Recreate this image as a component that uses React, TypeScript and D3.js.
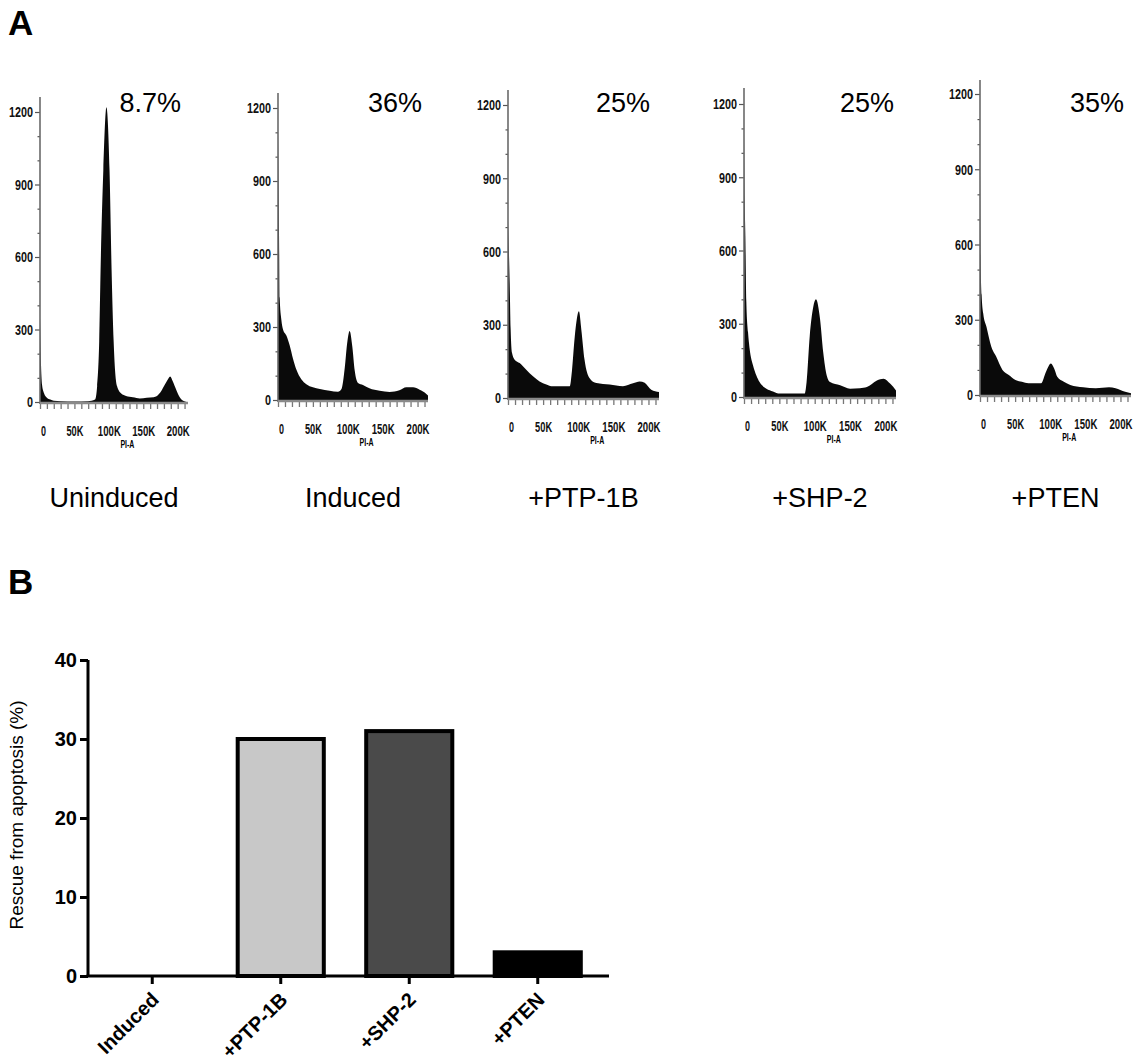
import * as d3 from "d3";
import { useEffect, useRef } from "react";

// PI-A (in K) and event count
const uninduced: [number, number][] = [
  [0, 350], [1.5, 150], [3, 70], [6, 35], [10, 18], [15, 10], [20, 5], [30, 3], [50, 2],
  [70, 3], [80, 10], [83, 65], [86, 250], [88, 546], [92, 960], [96.5, 1220], [101, 960],
  [104, 546], [107, 250], [112, 65], [118, 35], [125, 25], [135, 20], [145, 15], [155, 18],
  [165, 20], [170, 25], [175, 40], [180, 65], [185, 90], [189, 106], [193, 85], [198, 50],
  [203, 20], [208, 5], [213, 0],
];
const induced: [number, number][] = [
  [0, 1100], [1.4, 700], [2.4, 420], [4.8, 330], [7.2, 290], [12, 265], [16.7, 225],
  [21.5, 170], [26.3, 125], [33.4, 85], [40.6, 65], [50, 52], [60, 45], [74, 38], [86, 34],
  [91, 45], [95.6, 130], [99, 230], [102.7, 284], [106.5, 220], [110, 120], [114.7, 70],
  [121.8, 62], [131, 48], [145.7, 38], [160, 33], [174, 40], [184, 52], [193.5, 52],
  [203, 42], [212.6, 25], [215, 18],
];
const ptp1b: [number, number][] = [
  [0, 730], [2.4, 470], [3.8, 280], [5.7, 185], [9.5, 157], [16.6, 143], [26, 116],
  [35.6, 89], [45, 68], [54.6, 55], [61.7, 48], [87.8, 48], [91, 110], [95, 250], [101, 355],
  [104.4, 280], [109, 157], [116, 82], [125.8, 61], [144.7, 55], [163.7, 48], [178, 60],
  [187.5, 68], [194.6, 62], [204, 34], [215, 25],
];
const shp2: [number, number][] = [
  [0, 1080], [1, 800], [1.9, 660], [3.3, 390], [5.7, 265], [8, 197], [12.8, 129], [17.5, 88],
  [22, 61], [31.7, 34], [41, 23], [50.7, 14], [86, 14], [88.5, 60], [93, 250], [98, 370],
  [101.8, 400], [107.5, 320], [112, 184], [117, 88], [121.7, 61], [136, 48], [150, 34],
  [164, 36], [173.8, 41], [188, 68], [197.4, 75], [207, 54], [215, 27],
];
const pten: [number, number][] = [
  [0, 900], [0.9, 550], [2.3, 400], [4.6, 325], [9.2, 272], [16, 193], [23, 153], [32, 100],
  [41, 80], [50.5, 60], [59.7, 53], [69, 47], [87, 47], [94, 93], [101, 126], [105.6, 106],
  [110, 73], [119.4, 53], [128.6, 40], [147, 31], [165, 27], [183.7, 31], [193, 27],
  [206.7, 13], [215, 7],
];

const samples = [uninduced, induced, ptp1b, shp2, pten];
const sampleNames = ["Uninduced", "Induced", "+PTP-1B", "+SHP-2", "+PTEN"];
const apoptosisPct = ["8.7%", "36%", "25%", "25%", "35%"];
const countTicks = [0, 300, 600, 900, 1200];
const piTicks = [0, 50, 100, 150, 200];

// panel B
const rescueCats = ["Induced", "+PTP-1B", "+SHP-2", "+PTEN"];
const rescueVals = [0, 30, 31, 3];
const rescueFills = ["#ffffff", "#c8c8c8", "#4a4a4a", "#000000"];
const rescueTicks = [0, 10, 20, 30, 40];

// where each histogram sits on the page
const frames = [
  { x0: 40, x1: 188, yBase: 402, y1200: 112, top: 97, pctRight: 181 },
  { x0: 278, x1: 428, yBase: 400, y1200: 108, top: 93, pctRight: 422 },
  { x0: 508, x1: 659, yBase: 398, y1200: 105, top: 90, pctRight: 650 },
  { x0: 744, x1: 896, yBase: 397, y1200: 104, top: 88, pctRight: 894 },
  { x0: 980, x1: 1131, yBase: 395, y1200: 94, top: 80, pctRight: 1124 },
];

const W = 1138;
const H = 1056;
const SANS = "'Liberation Sans', Arial, Helvetica, sans-serif";

// the flow-cytometry labels use a condensed bold face; squeeze a normal one
const narrowLen = (s: string) => s.length * 6;

export default function App() {
  const ref = useRef<SVGSVGElement>(null);

  useEffect(() => {
    const svg = d3.select(ref.current);
    svg.selectAll("*").remove();
    svg.append("rect").attr("width", W).attr("height", H).attr("fill", "#fff");

    // panel letters
    svg.append("text").attr("x", 8).attr("y", 35).text("A")
      .style("font-family", SANS).style("font-weight", "bold").style("font-size", "35px");
    svg.append("text").attr("x", 8).attr("y", 594).text("B")
      .style("font-family", SANS).style("font-weight", "bold").style("font-size", "35px");

    // ---- histograms ----
    samples.forEach((pts, i) => {
      const f = frames[i];
      const x = d3.scaleLinear().domain([0, 215]).range([f.x0, f.x1]);
      const y = d3.scaleLinear().domain([0, 1200]).range([f.yBase, f.y1200]);
      const g = svg.append("g");

      const area = d3.area<[number, number]>()
        .x(d => x(d[0]))
        .y0(f.yBase)
        .y1(d => y(d[1]))
        .curve(d3.curveMonotoneX);
      g.append("path").attr("d", area(pts)).attr("fill", "#0a0a0a");

      // y axis
      const yAxis = d3.axisLeft(y)
        .tickValues(d3.range(0, 1201, 100))
        .tickSize(5)
        .tickFormat(d => (countTicks.includes(+d) ? String(d) : ""));
      const ya = g.append("g").attr("transform", `translate(${f.x0},0)`).call(yAxis);
      ya.select(".domain").remove();
      ya.selectAll(".tick line")
        .attr("stroke", "#555")
        .attr("stroke-width", 1.2)
        .attr("x2", (d: any) => (countTicks.includes(+d) ? -5 : -2.5));
      ya.selectAll<SVGTextElement, number>(".tick text")
        .attr("x", -7)
        .style("font-family", SANS)
        .style("font-weight", "bold")
        .style("font-size", "15px")
        .attr("fill", "#111")
        .filter(d => countTicks.includes(+d))
        .attr("textLength", d => narrowLen(String(d)))
        .attr("lengthAdjust", "spacingAndGlyphs");
      g.append("line")
        .attr("x1", f.x0).attr("x2", f.x0)
        .attr("y1", f.yBase + 2).attr("y2", f.top)
        .attr("stroke", "#6a6a6a").attr("stroke-width", 1.6);

      // x axis
      const fmtK = (d: number) => (d === 0 ? "0" : `${d}K`);
      const xAxis = d3.axisBottom(x)
        .tickValues(d3.range(0, 211, 10))
        .tickSize(6)
        .tickFormat(d => (piTicks.includes(+d) ? fmtK(+d) : ""));
      const xa = g.append("g").attr("transform", `translate(0,${f.yBase + 1})`).call(xAxis);
      xa.select(".domain").remove();
      xa.selectAll(".tick line").attr("stroke", "#777").attr("stroke-width", 1.3);
      xa.selectAll<SVGTextElement, number>(".tick text")
        .attr("y", 22)
        .style("font-family", SANS)
        .style("font-weight", "bold")
        .style("font-size", "15px")
        .attr("fill", "#111")
        .filter(d => piTicks.includes(+d))
        .attr("textLength", d => narrowLen(fmtK(+d)) - 1)
        .attr("lengthAdjust", "spacingAndGlyphs");
      xa.selectAll<SVGGElement, number>(".tick")
        .filter(d => d === 0)
        .select("text")
        .attr("x", 3);
      g.append("line")
        .attr("x1", f.x0).attr("x2", f.x1)
        .attr("y1", f.yBase + 1).attr("y2", f.yBase + 1)
        .attr("stroke", "#8a8a8a").attr("stroke-width", 2.5);

      g.append("text")
        .attr("x", x(127)).attr("y", f.yBase + 46)
        .attr("text-anchor", "middle")
        .attr("textLength", 14)
        .attr("lengthAdjust", "spacingAndGlyphs")
        .text("PI-A")
        .style("font-family", SANS).style("font-weight", "bold").style("font-size", "10px");

      // % apoptotic
      g.append("text")
        .attr("x", f.pctRight).attr("y", 112)
        .attr("text-anchor", "end")
        .text(apoptosisPct[i])
        .style("font-family", SANS).style("font-size", "27px");

      // sample name
      g.append("text")
        .attr("x", (f.x0 + f.x1) / 2).attr("y", 507)
        .attr("text-anchor", "middle")
        .text(sampleNames[i])
        .style("font-family", SANS).style("font-size", "27px");
    });

    // ---- panel B: bar chart ----
    const left = 88, right = 609, y0 = 976, y40 = 660;
    const bx = d3.scaleBand().domain(rescueCats).range([left, 602])
      .paddingInner(0.33).paddingOuter(0.165);
    const by = d3.scaleLinear().domain([0, 40]).range([y0, y40]);
    const gb = svg.append("g");

    gb.selectAll(".bar")
      .data(rescueCats.map((c, i) => ({ c, v: rescueVals[i], fill: rescueFills[i] })).filter(d => d.v > 0))
      .enter()
      .append("rect")
      .attr("class", "bar")
      .attr("x", d => bx(d.c)!)
      .attr("y", d => by(d.v))
      .attr("width", bx.bandwidth())
      .attr("height", d => y0 - by(d.v))
      .attr("fill", d => d.fill)
      .attr("stroke", "#000")
      .attr("stroke-width", 4);

    const byAxis = d3.axisLeft(by).tickValues(rescueTicks).tickSize(8).tickPadding(3);
    const bya = gb.append("g").attr("transform", `translate(${left},0)`).call(byAxis);
    bya.select(".domain").attr("stroke-width", 3).attr("d", `M0,${y40}V${y0}`);
    bya.selectAll(".tick line").attr("stroke-width", 3);
    bya.selectAll(".tick text")
      .style("font-family", SANS).style("font-weight", "bold").style("font-size", "20px")
      .attr("fill", "#000");

    const bxAxis = d3.axisBottom(bx).tickSize(8).tickSizeOuter(0);
    const bxa = gb.append("g").attr("transform", `translate(0,${y0})`).call(bxAxis);
    bxa.select(".domain").attr("stroke-width", 3).attr("d", `M${left - 1.5},0H${right}`);
    bxa.selectAll(".tick line").attr("stroke-width", 3);
    bxa.selectAll(".tick text")
      .attr("text-anchor", "end")
      .attr("transform", "translate(3,20) rotate(-45)")
      .attr("dy", "0.35em")
      .attr("y", 0)
      .attr("x", 0)
      .style("font-family", SANS).style("font-weight", "bold").style("font-size", "20px")
      .attr("fill", "#000");

    svg.append("text")
      .attr("transform", `translate(23,${815}) rotate(-90)`)
      .attr("text-anchor", "middle")
      .text("Rescue from apoptosis (%)")
      .style("font-family", SANS).style("font-size", "19px");
  }, []);

  return (
    <svg
      ref={ref}
      width={W}
      height={H}
      style={{ position: "absolute", left: 0, top: 0, display: "block" }}
    />
  );
}
